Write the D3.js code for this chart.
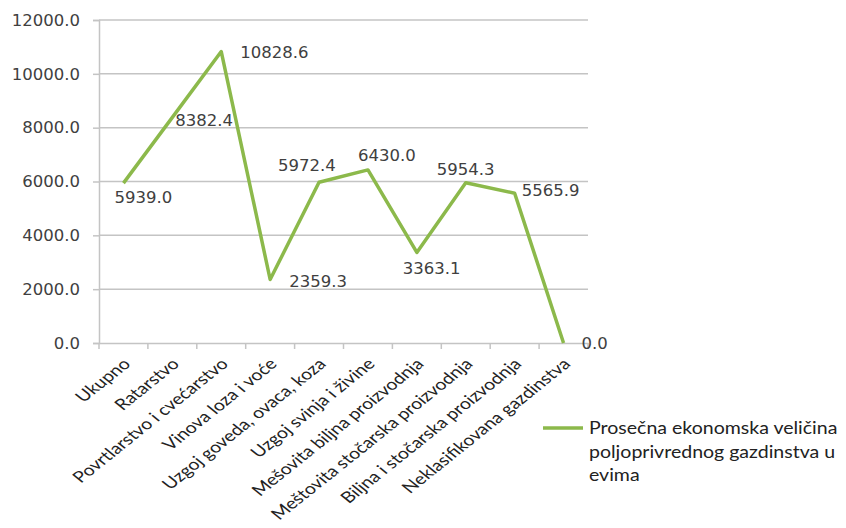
<!DOCTYPE html>
<html>
<head>
<meta charset="utf-8">
<script src="https://cdn.jsdelivr.net/npm/d3@7"></script>
<style>
  html, body { margin: 0; padding: 0; background: #ffffff; }
  svg { display: block; }
</style>
</head>
<body>
<svg id="chart" width="846" height="528"></svg>
<script>
// ---- data ----
const categories = [
  "Ukupno",
  "Ratarstvo",
  "Povrtlarstvo i cvećarstvo",
  "Vinova loza i voće",
  "Uzgoj goveda, ovaca, koza",
  "Uzgoj svinja i živine",
  "Mešovita biljna proizvodnja",
  "Meštovita stočarska proizvodnja",
  "Biljna i stočarska proizvodnja",
  "Neklasifikovana gazdinstva"
];
const values = [5939.0, 8382.4, 10828.6, 2359.3, 5972.4, 6430.0, 3363.1, 5954.3, 5565.9, 0.0];
const yTicks = [0, 2000, 4000, 6000, 8000, 10000, 12000];
const legendLines = ["Prosečna ekonomska veličina", "poljoprivrednog gazdinstva u", "evima"];

// ---- layout (label offsets relative to each point) ----
const labelOffsets = [
  [-9, 14], [3, 3], [19, 1], [19, 2], [-41, -17],
  [-10, -15], [-14, 16], [-29, -14], [7, -3], [18, 0]
];

const lineColor = "#8cb94b";
const textColor = "#404040";
const gridColor = "#c4c4c4";

const svg = d3.select("#chart");
const mLeft = 99, mRight = 588, mTop = 20, mBottom = 343;

const x = d3.scaleBand().domain(categories).range([mLeft, mRight]).paddingInner(0).paddingOuter(0);
const y = d3.scaleLinear().domain([0, 12000]).range([mBottom, mTop]);
const cx = d => x(d) + x.bandwidth() / 2;

// gridlines
svg.append("g").selectAll("line").data(yTicks.filter(t => t > 0)).join("line")
  .attr("x1", mLeft).attr("x2", mRight)
  .attr("y1", d => y(d)).attr("y2", d => y(d))
  .attr("stroke", gridColor).attr("stroke-width", 1.5);

// y axis
const yAxis = svg.append("g").attr("transform", `translate(${mLeft},0)`)
  .call(d3.axisLeft(y).tickValues(yTicks).tickFormat(d3.format(".1f")).tickSize(6).tickPadding(13));
yAxis.select(".domain").attr("stroke", gridColor).attr("stroke-width", 1.5);
yAxis.selectAll(".tick line").attr("stroke", gridColor).attr("stroke-width", 1.5);
yAxis.selectAll("text").attr("fill", textColor)
  .style("font-family", "DejaVu Sans").style("font-size", "16.5px");

// x axis
const xAxis = svg.append("g").attr("transform", `translate(0,${mBottom})`)
  .call(d3.axisBottom(x).tickSize(0).tickFormat(""));
xAxis.select(".domain").attr("stroke", gridColor).attr("stroke-width", 1.5);
xAxis.selectAll(".tick").remove();
// band boundary ticks
const bounds = categories.map(c => x(c)).concat([mRight]);
xAxis.append("g").selectAll("line").data(bounds).join("line")
  .attr("x1", d => d).attr("x2", d => d).attr("y1", 0).attr("y2", 6)
  .attr("stroke", gridColor).attr("stroke-width", 1.5);

// category labels
svg.append("g").selectAll("text").data(categories).join("text")
  .attr("transform", d => `translate(${cx(d) + 8},${mBottom + 22}) scale(1.25,1) rotate(-45)`)
  .attr("text-anchor", "end")
  .attr("fill", "#222")
  .style("font-family", "Lato")
  .style("font-size", "15.6px")
  .text(d => d);

// line
const line = d3.line().x((d, i) => cx(categories[i])).y(d => y(d));
svg.append("path").datum(values)
  .attr("d", line)
  .attr("fill", "none")
  .attr("stroke", lineColor)
  .attr("stroke-width", 3.5)
  .attr("stroke-linejoin", "round");

// data labels
svg.append("g").selectAll("text").data(values).join("text")
  .attr("x", (d, i) => cx(categories[i]) + labelOffsets[i][0])
  .attr("y", (d, i) => y(d) + labelOffsets[i][1])
  .attr("dy", "0.36em")
  .attr("fill", textColor)
  .style("font-family", "DejaVu Sans")
  .style("font-size", "16.5px")
  .text(d => d3.format(".1f")(d));

// legend
const lg = svg.append("g").attr("transform", "translate(543,428)");
lg.append("line").attr("x1", 0).attr("x2", 40).attr("y1", 0).attr("y2", 0)
  .attr("stroke", lineColor).attr("stroke-width", 3.5);
lg.selectAll("text").data(legendLines).join("text")
  .attr("transform", (d, i) => `translate(46,${i * 23.5}) scale(1.15,1)`)
  .attr("dy", "0.36em")
  .attr("fill", "#222")
  .style("font-family", "Lato").style("font-size", "17px")
  .text(d => d);
</script>
</body>
</html>
